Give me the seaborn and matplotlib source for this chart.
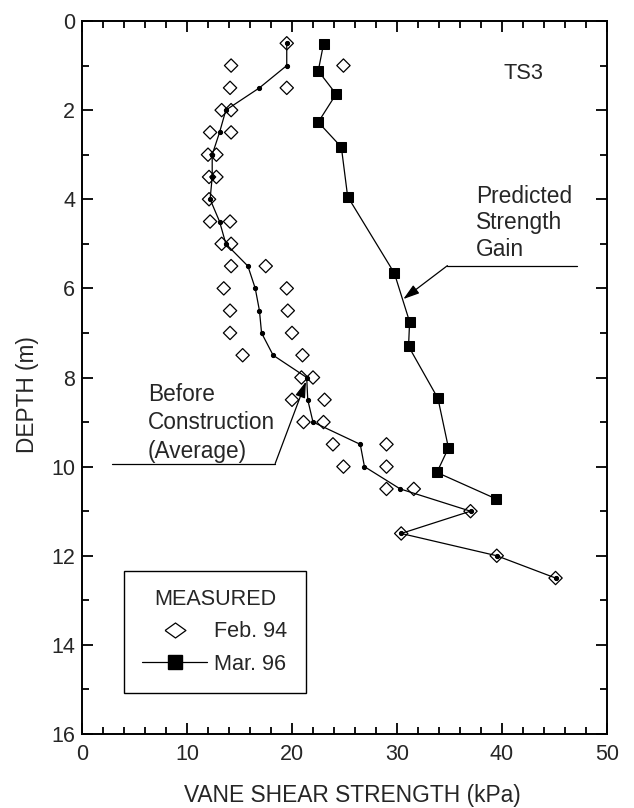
import matplotlib
matplotlib.use("Agg")
import matplotlib.pyplot as plt
import seaborn as sns
import numpy as np
from matplotlib.lines import Line2D
from matplotlib.ticker import MultipleLocator

# -- Feb. 94 vane readings (hollow diamonds)
feb94_depth = [0.5, 1.0, 1.0, 1.5, 1.5, 2.0, 2.0, 2.5, 2.5, 3.0, 3.0, 3.5, 3.5,
               4.0, 4.5, 4.5, 5.0, 5.0, 5.5, 5.5, 6.0, 6.0, 6.5, 6.5, 7.0, 7.0,
               7.5, 7.5, 8.0, 8.0, 8.5, 8.5, 9.0, 9.0, 9.5, 9.5, 10.0, 10.0,
               10.5, 10.5, 11.0, 11.5, 12.0, 12.5]
feb94_strength = [19.5, 14.2, 24.9, 14.1, 19.5, 13.3, 14.2, 12.2, 14.2, 12.0, 12.8, 12.1, 12.8,
                  12.1, 12.2, 14.1, 13.3, 14.2, 14.2, 17.5, 13.5, 19.5, 14.1, 19.6, 14.1, 20.0,
                  15.3, 21.0, 20.9, 22.0, 20.0, 23.1, 21.1, 23.0, 23.9, 29.0, 24.9, 29.0,
                  29.0, 31.6, 37.0, 30.4, 39.5, 45.1]

# -- before construction average (line with small dots)
avg_depth = [0.5, 1.0, 1.5, 2.0, 2.5, 3.0, 3.5, 4.0, 4.5, 5.0, 5.5, 6.0, 6.5,
             7.0, 7.5, 8.0, 8.5, 9.0, 9.5, 10.0, 10.5, 11.0, 11.5, 12.0, 12.5]
avg_strength = [19.5, 19.5, 16.9, 13.7, 13.1, 12.4, 12.4, 12.2, 13.1, 13.7, 15.8, 16.5, 16.9,
                17.1, 18.2, 21.4, 21.5, 22.0, 26.5, 26.9, 30.3, 37.0, 30.4, 39.5, 45.1]

# -- Mar. 96 vane readings (filled squares)
mar96_depth = [0.52, 1.12, 1.64, 2.27, 2.83, 3.94, 5.66, 6.75, 7.3, 8.47, 9.58, 10.13, 10.72]
mar96_strength = [23.0, 22.5, 24.2, 22.5, 24.7, 25.3, 29.75, 31.2, 31.1, 33.9, 34.9, 33.8, 39.4]

sns.set_style("ticks")
plt.rcParams['font.family'] = ['Liberation Sans', 'DejaVu Sans']
plt.rcParams['font.size'] = 16

fig = plt.figure(figsize=(6.34, 8.08), dpi=100)
ax = fig.add_axes([82 / 634, 1 - 734 / 808, 525 / 634, 713 / 808])

sns.lineplot(x=avg_strength, y=avg_depth, sort=False, estimator=None, color='black',
             lw=0.9, marker='o', ms=3.0, mec='black', ax=ax)
sns.lineplot(x=mar96_strength, y=mar96_depth, sort=False, estimator=None, color='black',
             lw=0.9, marker='s', ms=7.6, mec='black', ax=ax)
sns.scatterplot(x=feb94_strength, y=feb94_depth, marker='D', s=46, fc='none',
                ec='black', linewidth=0.9, ax=ax, zorder=3)

ax.set_xlim(0, 50)
ax.set_ylim(16, 0)
ax.xaxis.set_major_locator(MultipleLocator(10))
ax.xaxis.set_minor_locator(MultipleLocator(2))
ax.yaxis.set_major_locator(MultipleLocator(2))
ax.yaxis.set_minor_locator(MultipleLocator(1))
ax.tick_params(which='both', direction='in', top=True, right=True, width=1.3, color='black')
ax.tick_params(which='major', length=8)
ax.tick_params(which='minor', length=5)
ax.tick_params(axis='x', pad=7, labelsize=15.5)
ax.tick_params(axis='y', pad=5, labelsize=15.5)
for sp in ax.spines.values():
    sp.set_linewidth(1.4)
    sp.set_color('black')

ax.set_xlabel("VANE SHEAR STRENGTH (kPa)", fontsize=16.4, labelpad=14, x=0.515)
ax.set_ylabel("DEPTH (m)", fontsize=16.3, labelpad=9, y=0.4755)

ax.text(42.0, 1.17, "TS3", ha='center', va='center', fontsize=15.7)

# -- annotations
arrow = dict(arrowstyle='-|>,head_length=0.7,head_width=0.22', color='black',
             lw=0.9, shrinkA=0, shrinkB=0, mutation_scale=14)
ax.text(37.5, 4.53, "Predicted\nStrength\nGain", ha='left', va='center',
        fontsize=16.4, linespacing=1.2)
ax.plot([47.1, 34.8], [5.49, 5.49], color='black', lw=0.9)
ax.annotate("", xy=(30.6, 6.24), xytext=(34.8, 5.49), arrowprops=arrow)

ax.text(6.26, 9.02, "Before\nConstruction\n(Average)", ha='left', va='center',
        fontsize=16.3, linespacing=1.3)
ax.plot([2.89, 18.4], [9.93, 9.93], color='black', lw=0.9)
ax.annotate("", xy=(21.33, 8.09), xytext=(18.4, 9.93), arrowprops=arrow)

wide_diamond = [(-1, 0), (0, 0.72), (1, 0), (0, -0.72), (-1, 0)]
handles = [Line2D([], [], ls='none', marker=wide_diamond, mfc='none', mec='black', ms=15, mew=0.9),
           Line2D([], [], color='black', lw=0.9, marker='s', ms=9.4)]
leg = ax.legend(handles, ["Feb. 94", "Mar. 96"], title="MEASURED", loc='lower left',
                bbox_to_anchor=(0.080, 0.057), frameon=True, fancybox=False,
                edgecolor='black', fontsize=15.6, title_fontsize=15.6,
                handlelength=3.0, handletextpad=0.32, labelspacing=0.53,
                borderpad=0.85, borderaxespad=0)
leg.get_frame().set_linewidth(1.0)
leg.get_frame().set_alpha(1)

fig.savefig("out.png", dpi=100)
